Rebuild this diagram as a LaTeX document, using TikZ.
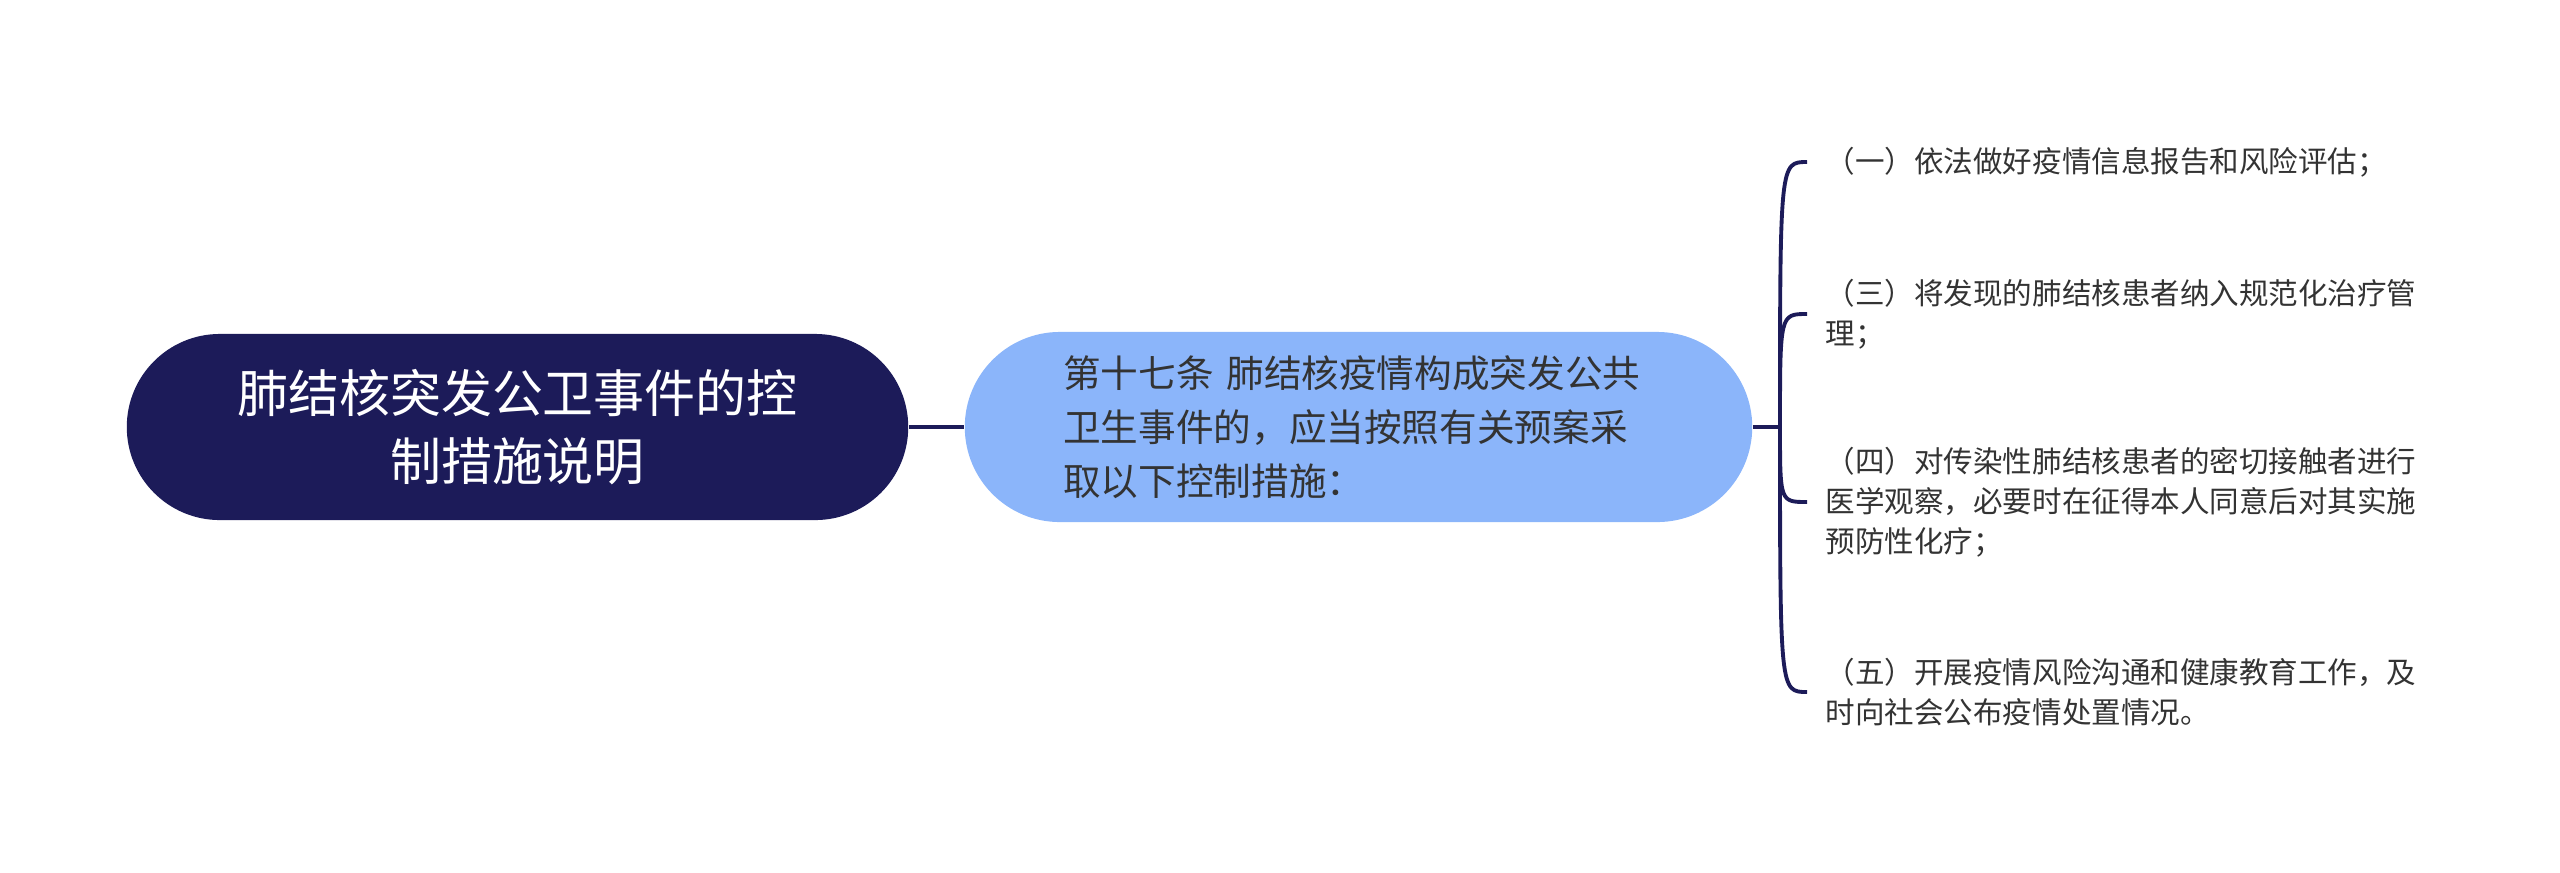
\documentclass[tikz,border=0pt]{standalone}
\usepackage{fontspec}
\setmainfont{Noto Sans CJK SC}
\definecolor{navy}{HTML}{1C1B59}
\definecolor{sky}{HTML}{8BB5FA}
\definecolor{ink}{HTML}{333333}
\begin{document}
\begin{tikzpicture}[x=0.01cm,y=-0.01cm,
		rootbox/.style={fill=navy,text=white,rounded corners=0.93cm,minimum width=7.81cm,minimum height=1.86cm,align=center,font=\fontsize{14.5pt}{19.4pt}\selectfont},
		topicbox/.style={fill=sky,text=ink,rounded corners=0.95cm,minimum width=7.87cm,minimum height=1.9cm,text width=5.9cm,align=left,font=\fontsize{10.7pt}{15.4pt}\selectfont},
		leaf/.style={anchor=west,text=ink,inner xsep=0.18cm,align=left,font=\fontsize{8.4pt}{11.4pt}\selectfont},
		link/.style={draw=navy,line width=1.1pt}]
			\useasboundingbox (0,0) rectangle (2560,872);
			\node (n0) [rootbox] at (517.5,427) {肺结核突发公卫事件的控\\制措施说明};
			\node (n1) [topicbox] at (1358.5,427) {第十七条 肺结核疫情构成突发公共\\卫生事件的，应当按照有关预案采\\取以下控制措施：};
			\coordinate (hub) at (1780,427);
			\node (n2) [leaf] at (1807,162) {（一）依法做好疫情信息报告和风险评估；};
			\node (n3) [leaf] at (1807,314) {（三）将发现的肺结核患者纳入规范化治疗管\\理；};
			\node (n4) [leaf] at (1807,502) {（四）对传染性肺结核患者的密切接触者进行\\医学观察，必要时在征得本人同意后对其实施\\预防性化疗；};
			\node (n5) [leaf] at (1807,692) {（五）开展疫情风险沟通和健康教育工作，及\\时向社会公布疫情处置情况。};
			\draw [link] (n0.east) -- (n1.west);
			\draw [link] (n1.east) -- (hub);
			\foreach \n in {n2,n3,n4,n5}
				\draw [link] (hub) .. controls (hub |- \n.west) .. (\n.west);
		\end{tikzpicture}
\end{document}
